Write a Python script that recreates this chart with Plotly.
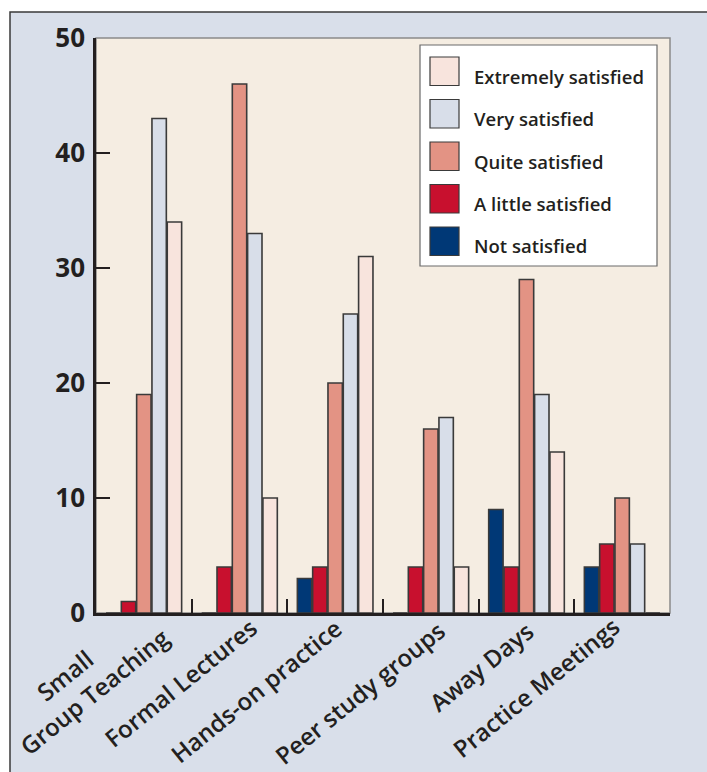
import plotly.graph_objects as go

categories = ["Small Group Teaching", "Formal Lectures", "Hands-on practice",
              "Peer study groups", "Away Days", "Practice Meetings"]
tick_labels = ["Small" + "\u00a0" * 4 + "<br>Group Teaching", "Formal Lectures",
               "Hands-on practice", "Peer study groups", "Away Days",
               "Practice Meetings"]
series_names = ["Not satisfied", "A little satisfied", "Quite satisfied",
                "Very satisfied", "Extremely satisfied"]
not_satisfied = [0, 0, 3, 0, 9, 4]
little_satisfied = [1, 4, 4, 4, 4, 6]
quite_satisfied = [19, 46, 20, 16, 29, 10]
very_satisfied = [43, 33, 26, 17, 19, 6]
extremely_satisfied = [34, 10, 31, 4, 14, 0]
series_values = [not_satisfied, little_satisfied, quite_satisfied,
                 very_satisfied, extremely_satisfied]
colors = ["#003876", "#c8102e", "#e39384", "#d8dee9", "#f8e4dd"]
y_ticks = [0, 10, 20, 30, 40, 50]

# layout offsets (px) for the slanted category labels
label_xshift = [35, 27, 16, 24, 16, 6]
label_yshift = [19, 5, 5, 2, 1, 6]

W, H = 707, 772
L, R, T, B = 96, 670, 38, 613
pw, ph = R - L, B - T


def px(x):
    return (x - L) / pw


def py(y):
    return 1 - (y - T) / ph


fig = go.Figure()
for name, vals, col in zip(series_names, series_values, colors):
    fig.add_trace(go.Bar(
        x=categories, y=vals, name=name,
        marker=dict(color=col, line=dict(color="#3a3a3a", width=1.6)),
        showlegend=False,
    ))

text_col = "#231f20"
shapes = [
    # outer frame
    dict(type="rect", xref="paper", yref="paper", layer="below",
         x0=px(10), x1=px(740), y0=py(800), y1=py(12),
         fillcolor="#d9dfea", line=dict(color="#3a3a3a", width=1.5)),
    # plot area background
    dict(type="rect", xref="paper", yref="paper", layer="below",
         x0=0, x1=1, y0=0, y1=1,
         fillcolor="#f5ede2", line=dict(color="#8a8a8a", width=1.5)),
    # legend box
    dict(type="rect", xref="paper", yref="paper",
         x0=px(420), x1=px(657), y0=py(266), y1=py(45),
         fillcolor="#ffffff", line=dict(color="#6a6a6a", width=1.2)),
]
annotations = []
legend_order = list(range(len(series_names)))[::-1]
for i, idx in enumerate(legend_order):
    top = 57 + i * 42.5
    shapes.append(dict(type="rect", xref="paper", yref="paper",
                       x0=px(430), x1=px(459), y0=py(top + 28.5), y1=py(top),
                       fillcolor=colors[idx],
                       line=dict(color="#3a3a3a", width=1.2)))
    annotations.append(dict(xref="paper", yref="paper",
                            x=px(472), y=py(top + 19),
                            xanchor="left", yanchor="middle",
                            text=series_names[idx], showarrow=False,
                            font=dict(family="Open Sans", size=18.5,
                                      color=text_col, weight=600)))

for i, (lab, xs, ys) in enumerate(zip(tick_labels, label_xshift, label_yshift)):
    annotations.append(dict(xref="x", yref="paper", x=i, y=0,
                            xanchor="right", yanchor="top",
                            xshift=xs, yshift=ys, textangle=-39,
                            align="center", showarrow=False, text=lab,
                            font=dict(family="Open Sans", size=24,
                                      color=text_col, weight=600)))

fig.update_layout(
    width=W, height=H,
    margin=dict(l=L, r=W - R, t=T, b=H - B, pad=0),
    paper_bgcolor="#ffffff",
    plot_bgcolor="rgba(0,0,0,0)",
    barmode="group", bargap=0.2, bargroupgap=0.06,
    shapes=shapes, annotations=annotations,
    showlegend=False,
    font=dict(family="Open Sans", color=text_col),
)
fig.update_xaxes(
    type="category", categoryorder="array", categoryarray=categories,
    range=[-0.5, len(categories) - 0.5],
    showgrid=False, zeroline=False, automargin=False,
    showline=True, linecolor="#231f20", linewidth=2.5,
    ticks="inside", tickson="boundaries", ticklen=14, tickwidth=2,
    tickcolor="#231f20", showticklabels=False,
)
fig.update_yaxes(
    range=[0, 50], tickvals=y_ticks, showgrid=False, zeroline=False,
    automargin=False,
    showline=True, linecolor="#231f20", linewidth=2.5,
    ticks="inside", ticklen=14, tickwidth=2, tickcolor="#231f20",
    ticklabelstandoff=3,
    tickfont=dict(family="Open Sans", size=26, color=text_col, weight=700),
)

fig.write_html("out.html")
